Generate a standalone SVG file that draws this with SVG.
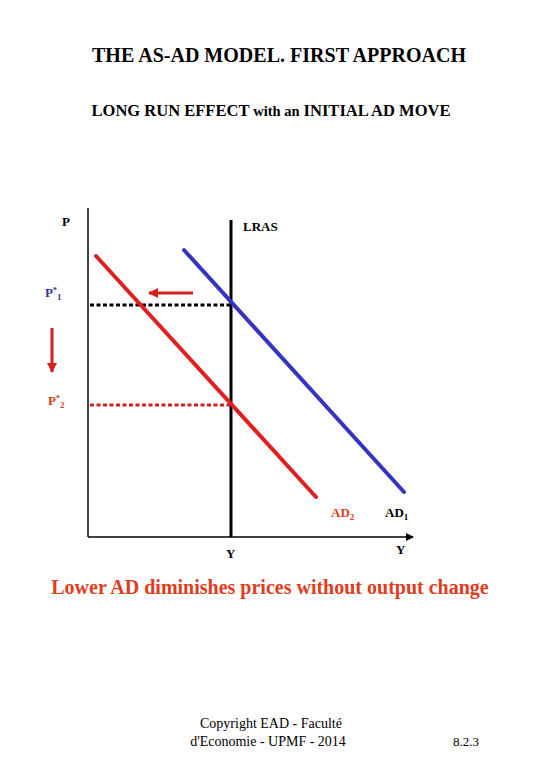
<svg xmlns="http://www.w3.org/2000/svg" width="540" height="780" viewBox="0 0 540 780">
<style>
text{font-family:"Liberation Serif","Times New Roman","DejaVu Serif",serif;}
.b{font-weight:bold;}
.lbl{font-size:13px;font-weight:bold;}
.sub{font-size:9px;}
</style>
<defs>
<marker id="ah" markerWidth="8" markerHeight="8" refX="7" refY="4" orient="auto" markerUnits="userSpaceOnUse">
<path d="M0,0 L8,4 L0,8 Z" fill="#000"/>
</marker>
<marker id="rh" markerWidth="10" markerHeight="10" refX="9" refY="5" orient="auto" markerUnits="userSpaceOnUse">
<path d="M0,0 L10,5 L0,10 Z" fill="#d42020"/>
</marker>
</defs>
<rect width="540" height="780" fill="#fff"/>
<text x="279" y="62" text-anchor="middle" class="b" font-size="20" textLength="374" lengthAdjust="spacingAndGlyphs">THE AS-AD MODEL. FIRST APPROACH</text>
<text x="271" y="116" text-anchor="middle" class="b" font-size="16" textLength="359" lengthAdjust="spacingAndGlyphs">LONG RUN EFFECT <tspan font-size="14">with an</tspan> INITIAL AD MOVE</text>
<g id="axes">
<line x1="88" y1="208" x2="88" y2="537" stroke="#000" stroke-width="1.5"/>
<line x1="88" y1="537" x2="413" y2="537" stroke="#000" stroke-width="1.5" marker-end="url(#ah)"/>
</g>
<g id="connectors">
<line x1="90" y1="305" x2="231" y2="305" stroke="#000" stroke-width="3" stroke-dasharray="4,2.5"/>
<line x1="90" y1="405" x2="231" y2="405" stroke="#d42020" stroke-width="3" stroke-dasharray="4,2.5"/>
<line x1="193" y1="293" x2="149" y2="293" stroke="#d42020" stroke-width="3" marker-end="url(#rh)"/>
<line x1="52" y1="328" x2="52" y2="372" stroke="#d42020" stroke-width="3" marker-end="url(#rh)"/>
</g>
<g id="lras">
<line x1="231" y1="220" x2="231" y2="537" stroke="#000" stroke-width="3"/>
<text x="243" y="231" class="lbl">LRAS</text>
</g>
<g id="ad1">
<line x1="184" y1="250" x2="404" y2="492" stroke="#3434c0" stroke-width="4" stroke-linecap="round"/>
<text x="385" y="517" class="lbl">AD<tspan class="sub" dy="3">1</tspan></text>
</g>
<g id="ad2">
<line x1="96" y1="256" x2="316" y2="497" stroke="#e02020" stroke-width="4" stroke-linecap="round"/>
<text x="331" y="517" class="lbl" fill="#e03c1e">AD<tspan class="sub" dy="3">2</tspan></text>
</g>
<g id="labels">
<text x="62" y="226" class="lbl">P</text>
<text x="45" y="297" class="lbl" fill="#333399">P<tspan font-size="8" dy="-4">*</tspan><tspan class="sub" dy="7">1</tspan></text>
<text x="48" y="405" class="lbl" fill="#cc4422">P<tspan font-size="8" dy="-4">*</tspan><tspan class="sub" dy="7">2</tspan></text>
<text x="226" y="558" class="lbl">Y</text>
<text x="396" y="554" class="lbl">Y</text>
</g>
<text x="270" y="594" text-anchor="middle" class="b" font-size="20" fill="#e03c1e">Lower AD diminishes prices without output change</text>
<text x="271" y="728" text-anchor="middle" font-size="14">Copyright EAD - Faculté</text>
<text x="268" y="746" text-anchor="middle" font-size="14">d'Economie - UPMF - 2014</text>
<text x="453" y="746" font-size="13">8.2.3</text>
</svg>
